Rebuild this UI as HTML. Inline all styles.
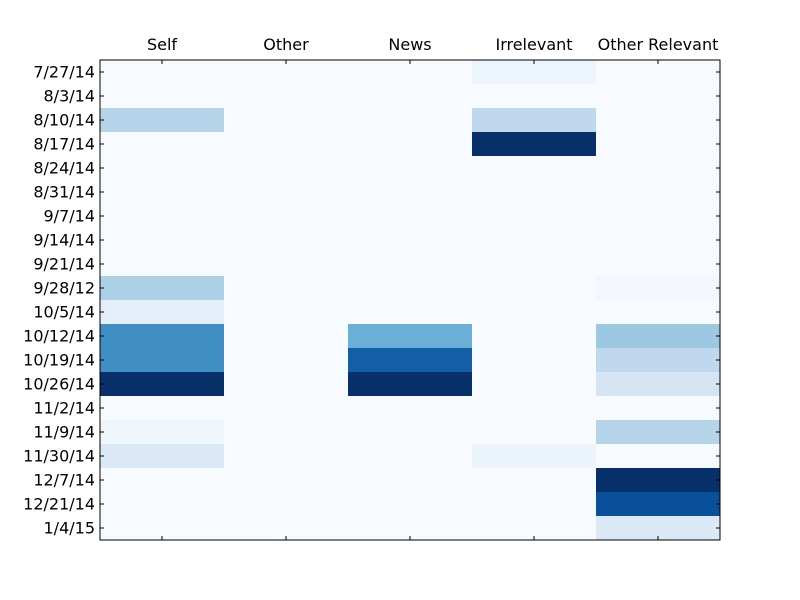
<!DOCTYPE html>
<html><head><meta charset="utf-8"><style>body{margin:0;background:#fff}svg{display:block}text{font-family:"DejaVu Sans","Liberation Sans",sans-serif;font-size:16px;fill:#000}</style></head>
<body>
<svg id="chart" width="800" height="600"></svg>
<script>
const columns=["Self","Other","News","Irrelevant","Other Relevant"];
const rows=["7/27/14","8/3/14","8/10/14","8/17/14","8/24/14","8/31/14","9/7/14","9/14/14","9/21/14","9/28/12","10/5/14","10/12/14","10/19/14","10/26/14","11/2/14","11/9/14","11/30/14","12/7/14","12/21/14","1/4/15"];
const selfVals=[0,0,0.3,0,0,0,0,0,0,0.33,0.1,0.64,0.64,1,0,0.04,0.14,0,0,0];
const otherVals=[0,0,0,0,0,0,0,0,0,0,0,0,0,0,0,0,0,0,0,0];
const newsVals=[0,0,0,0,0,0,0,0,0,0,0,0.5,0.82,1,0,0,0,0,0,0];
const irrVals=[0.05,0,0.27,1,0,0,0,0,0,0,0,0,0,0,0,0,0.06,0,0,0];
const otherRelVals=[0,0,0,0,0,0,0,0,0,0.03,0,0.38,0.27,0.17,0,0.3,0,1,0.88,0.14];
const series=[selfVals,otherVals,newsVals,irrVals,otherRelVals];
const stops=["#f7fbff","#deebf7","#c6dbef","#9ecae1","#6baed6","#4292c6","#2171b5","#08519c","#08306b"];
function hex(h){return [1,3,5].map(i=>parseInt(h.substr(i,2),16));}
function color(v){v=Math.max(0,Math.min(1,v));const p=v*8,i=Math.min(7,Math.floor(p)),t=p-i;const a=hex(stops[i]),b=hex(stops[i+1]);return "rgb("+a.map((c,k)=>Math.round(c+(b[k]-c)*t)).join(",")+")";}
const L=100,T=60,W=620,H=480;
const cw=W/columns.length,rh=H/rows.length;
const xPos=i=>L+i*cw, yPos=j=>T+j*rh;
const svg=document.getElementById('chart');const NS="http://www.w3.org/2000/svg";
function mk(tag,attrs,parent){const e=document.createElementNS(NS,tag);for(const k in attrs)e.setAttribute(k,attrs[k]);(parent||svg).appendChild(e);return e;}
const g=mk('g',{});


series.forEach((vals,c)=>vals.forEach((v,r)=>{const e=mk('rect',{x:xPos(c),y:yPos(r),width:cw+0.5,height:rh+0.5,fill:color(v)},g);

}));
const frame=mk('rect',{x:L,y:T,width:W,height:H,fill:'none',stroke:'#000','stroke-width':1});


columns.forEach((c,i)=>{const x=xPos(i)+cw/2;
mk('line',{x1:x,x2:x,y1:T,y2:T+4,stroke:'#000'});mk('line',{x1:x,x2:x,y1:T+H,y2:T+H-4,stroke:'#000'});
const t=mk('text',{x:x,y:T-10,'text-anchor':'middle'});t.textContent=c;

});
rows.forEach((r,j)=>{const y=yPos(j)+rh/2;
mk('line',{x1:L,x2:L+4,y1:y,y2:y,stroke:'#000'});mk('line',{x1:L+W,x2:L+W-4,y1:y,y2:y,stroke:'#000'});
const t=mk('text',{x:L-5,y:y+5.5,'text-anchor':'end'});t.textContent=r;

});
</script>
</body></html>
